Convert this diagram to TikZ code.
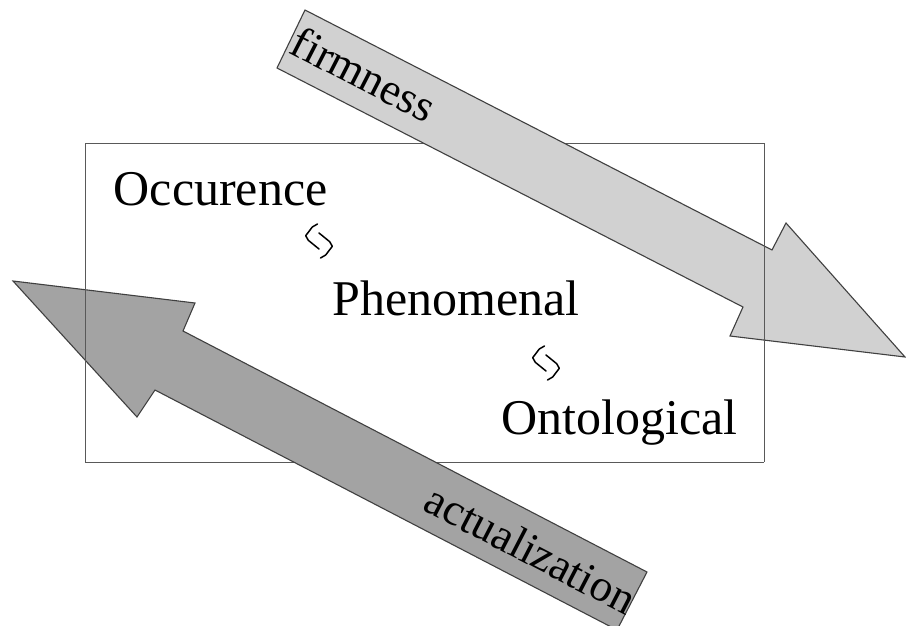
\documentclass[tikz,border=0pt]{standalone}
\usepackage{fontspec}
\setmainfont{Liberation Serif}
\begin{document}
\begin{tikzpicture}[x=1pt,y=-1pt,
  arrowshape/.style={draw=black!75, line width=1.1pt, line join=miter},
  bigtext/.style={inner sep=0pt, anchor=base west, font=\fontsize{50}{60}\selectfont},
  arrowtext/.style={inner sep=0pt, font=\fontsize{45}{52}\selectfont},
  frameline/.style={draw=black!65, line width=0.9pt},
  swapsym/.pic={
    \draw[line width=1.5pt, line cap=round, line join=round]
      (-1.5,-17) -- (-6.7,-14) -- (-13.3,-5.3) -- (-10.7,-0.7) -- (0,8);
    \draw[line width=1.5pt, line cap=round, line join=round]
      (1.5,17) -- (6.7,14) -- (13.3,5.3) -- (10.7,0.7) -- (0,-8);
  }]
\useasboundingbox (0,0) rectangle (906,626);
\clip (0,0) rectangle (906,626);
\fill[white] (0,0) rectangle (906,626);

% frame corners
\coordinate (f1) at (85,143);
\coordinate (f2) at (764,143);
\coordinate (f3) at (764,462);
\coordinate (f4) at (85,462);
% horizontal frame edges (under the arrows)
\draw[frameline] (f1) -- (f2);
\draw[frameline] (f4) -- (f3);

% firmness arrow
\path[arrowshape, fill=black!18]
  (305,10) -- (772,250) -- (786,223) -- (905,357) -- (730,336) -- (743,307) -- (277,68) -- cycle;
% actualization arrow
\path[arrowshape, fill=black!36]
  (13,281) -- (195,303) -- (183,331) -- (647,572) -- (617,630) -- (155,390) -- (137,417) -- cycle;

% vertical frame edges (over the arrows)
\draw[frameline] (f1) -- (f4);
\draw[frameline] (f2) -- (f3);

\node[arrowtext, rotate=-27.2] (firm) at (364,74) {firmness};
\node[arrowtext, rotate=-27.4] (act) at (531,549) {actualization};

\node[bigtext] (occ) at (113.5,205) {Occurence};
\node[bigtext] (phe) at (332,315) {Phenomenal};
\node[bigtext] (ont) at (501.5,434) {Ontological};

\pic (s1) at (319,241) {swapsym};
\pic (s2) at (546,363) {swapsym};
\end{tikzpicture}
\end{document}
